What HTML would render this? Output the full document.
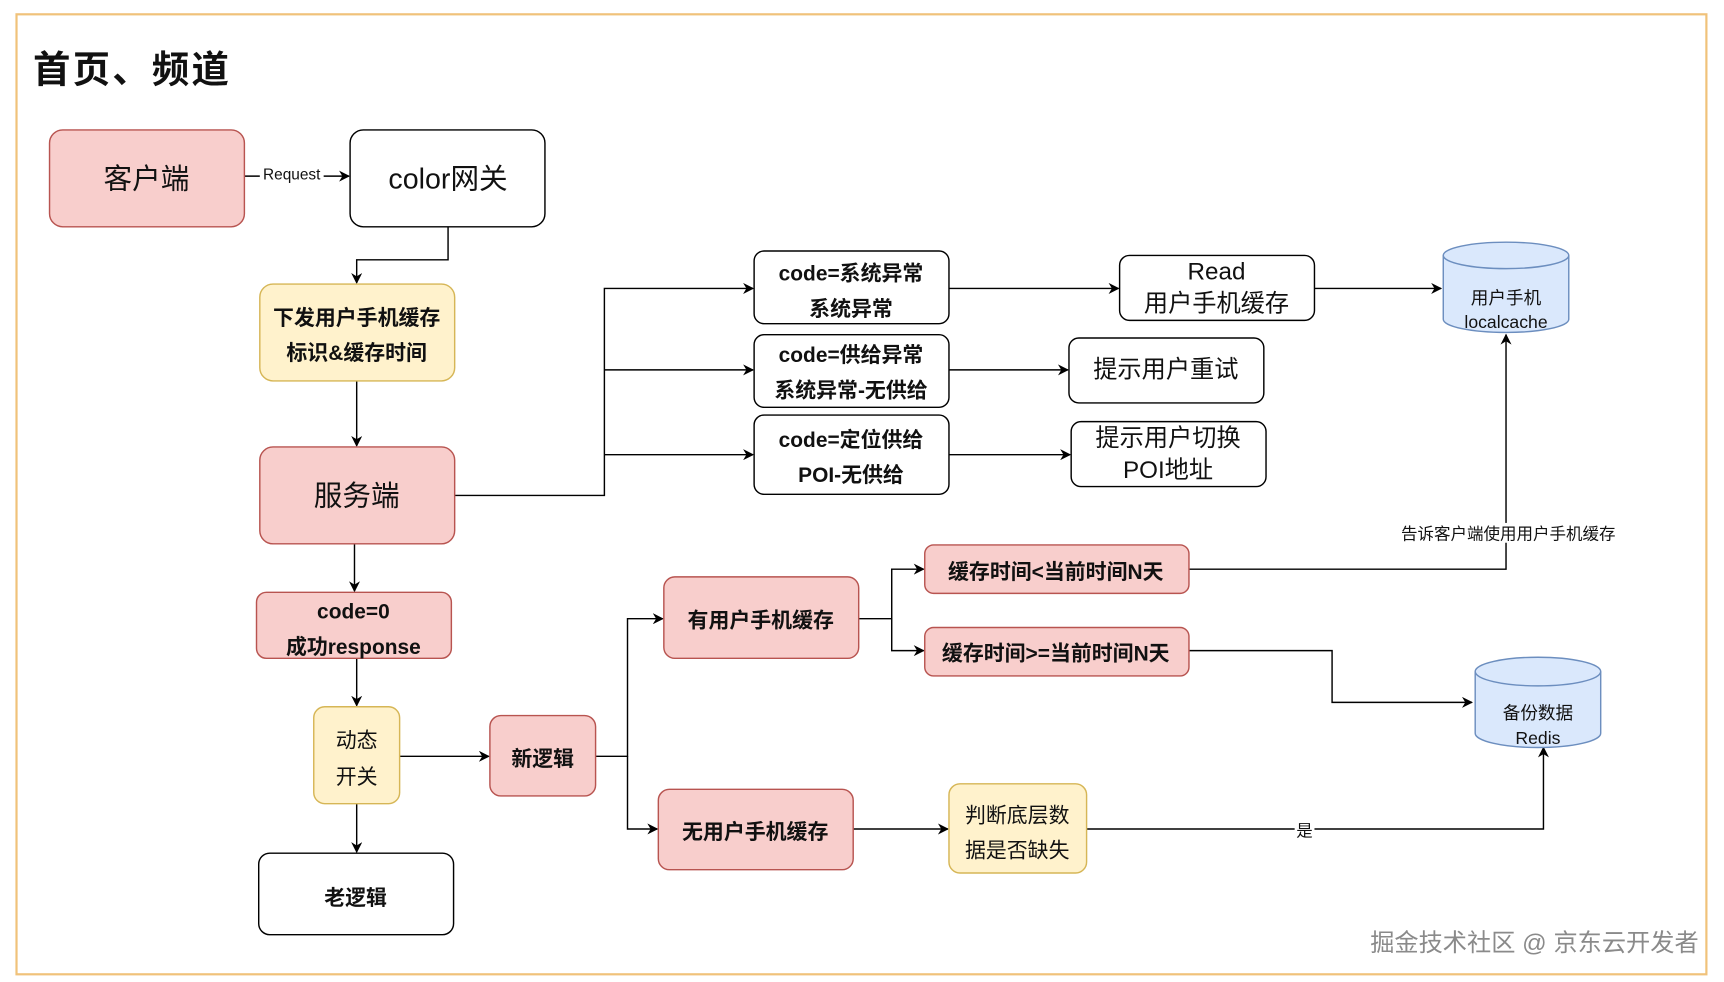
<!DOCTYPE html>
<html><head><meta charset="utf-8"><style>
html,body{margin:0;padding:0;background:#fff;}
svg{display:block;}
text{font-family:"Liberation Sans","Noto Sans CJK SC",sans-serif;fill:#111;}
.b{font-weight:bold;}
</style></head><body>
<svg width="1724" height="982" viewBox="0 0 1566 892" preserveAspectRatio="none" xmlns="http://www.w3.org/2000/svg">
<defs><marker id="a" markerWidth="10" markerHeight="10" refX="9" refY="5" orient="auto" markerUnits="userSpaceOnUse"><path d="M0,0 L10,5 L0,10 L3,5 z" fill="#000"/></marker></defs>
<rect x="15" y="13" width="1535" height="872" fill="#fff" stroke="#f0c27a" stroke-width="2"/>
<text x="30" y="75" font-size="34" class="b" letter-spacing="2">首页、频道</text>

<g stroke="#000" stroke-width="1.3" fill="none" marker-end="url(#a)">
<path d="M222,160 H317"/>
<path d="M407,206 V236 H324 V257"/>
<path d="M324,346 V405"/>
<path d="M413,450 H549 V262 H684"/>
<path d="M549,336 H684"/>
<path d="M549,413 H684"/>
<path d="M862,262 H1016"/>
<path d="M1194,262 H1309"/>
<path d="M862,336 H970"/>
<path d="M862,413 H972"/>
<path d="M322,494 V537"/>
<path d="M324,598 V641"/>
<path d="M324,730 V774"/>
<path d="M363,687 H444"/>
<path d="M541,687 H570 V562 H602"/>
<path d="M570,687 V753 H597"/>
<path d="M780,562 H810 V517 H839"/>
<path d="M810,562 V591 H839"/>
<path d="M1080,517 H1368 V304"/>
<path d="M1080,591 H1210 V638 H1337"/>
<path d="M775,753 H861"/>
<path d="M987,753 H1402 V679"/>
</g>
<rect x="236" y="150" width="58" height="14" fill="#fff"/>
<text x="265" y="163" font-size="14" text-anchor="middle">Request</text>
<rect x="1264" y="475" width="212" height="18" fill="#fff"/>
<text x="1370" y="490" font-size="15" text-anchor="middle">告诉客户端使用用户手机缓存</text>
<rect x="1176" y="745" width="18" height="18" fill="#fff"/>
<text x="1185" y="760" font-size="15" text-anchor="middle">是</text>

<g stroke-width="1.3">
<rect x="45" y="118" width="177" height="88" rx="12" fill="#f8cecc" stroke="#b85450"/>
<rect x="318" y="118" width="177" height="88" rx="12" fill="#fff" stroke="#000"/>
<rect x="236" y="258" width="177" height="88" rx="12" fill="#fff2cc" stroke="#d6b656"/>
<rect x="236" y="406" width="177" height="88" rx="12" fill="#f8cecc" stroke="#b85450"/>
<rect x="685" y="228" width="177" height="66" rx="9" fill="#fff" stroke="#000"/>
<rect x="685" y="304" width="177" height="66" rx="9" fill="#fff" stroke="#000"/>
<rect x="685" y="377" width="177" height="72" rx="9" fill="#fff" stroke="#000"/>
<rect x="1017" y="232" width="177" height="59" rx="9" fill="#fff" stroke="#000"/>
<rect x="971" y="307" width="177" height="59" rx="9" fill="#fff" stroke="#000"/>
<rect x="973" y="383" width="177" height="59" rx="9" fill="#fff" stroke="#000"/>
<rect x="233" y="538" width="177" height="60" rx="9" fill="#f8cecc" stroke="#b85450"/>
<rect x="285" y="642" width="78" height="88" rx="10" fill="#fff2cc" stroke="#d6b656"/>
<rect x="235" y="775" width="177" height="74" rx="10" fill="#fff" stroke="#000"/>
<rect x="445" y="650" width="96" height="73" rx="10" fill="#f8cecc" stroke="#b85450"/>
<rect x="603" y="524" width="177" height="74" rx="10" fill="#f8cecc" stroke="#b85450"/>
<rect x="598" y="717" width="177" height="73" rx="10" fill="#f8cecc" stroke="#b85450"/>
<rect x="840" y="495" width="240" height="44" rx="8" fill="#f8cecc" stroke="#b85450"/>
<rect x="840" y="570" width="240" height="44" rx="8" fill="#f8cecc" stroke="#b85450"/>
<rect x="862" y="712" width="125" height="81" rx="10" fill="#fff2cc" stroke="#d6b656"/>
<path d="M1311,232 V290 A57,12 0 0 0 1425,290 V232" fill="#dae8fc" stroke="#6c8ebf"/>
<ellipse cx="1368" cy="232" rx="57" ry="12" fill="#dae8fc" stroke="#6c8ebf"/>
<path d="M1340,610 V666 A57,13 0 0 0 1454,666 V610" fill="#dae8fc" stroke="#6c8ebf"/>
<ellipse cx="1397" cy="610" rx="57" ry="13" fill="#dae8fc" stroke="#6c8ebf"/>
</g>

<g text-anchor="middle">
<text x="133" y="171" font-size="26">客户端</text>
<text x="407" y="171" font-size="26">color网关</text>
<text x="324" y="295" font-size="19" class="b">下发用户手机缓存</text>
<text x="324" y="327" font-size="19" class="b">标识&amp;缓存时间</text>
<text x="324" y="459" font-size="26">服务端</text>
<text x="773" y="255" font-size="19" class="b">code=系统异常</text>
<text x="773" y="287" font-size="19" class="b">系统异常</text>
<text x="773" y="329" font-size="19" class="b">code=供给异常</text>
<text x="773" y="361" font-size="19" class="b">系统异常-无供给</text>
<text x="773" y="406" font-size="19" class="b">code=定位供给</text>
<text x="773" y="438" font-size="19" class="b">POI-无供给</text>
<text x="1105" y="254" font-size="22">Read</text>
<text x="1105" y="283" font-size="22">用户手机缓存</text>
<text x="1059" y="343" font-size="22">提示用户重试</text>
<text x="1061" y="405" font-size="22">提示用户切换</text>
<text x="1061" y="434" font-size="22">POI地址</text>
<text x="1368" y="276" font-size="16">用户手机</text>
<text x="1368" y="298" font-size="16">localcache</text>
<text x="321" y="562" font-size="19" class="b">code=0</text>
<text x="321" y="594" font-size="19" class="b">成功response</text>
<text x="324" y="679" font-size="19">动态</text>
<text x="324" y="712" font-size="19">开关</text>
<text x="323" y="822" font-size="19" class="b">老逻辑</text>
<text x="493" y="696" font-size="19" class="b">新逻辑</text>
<text x="691" y="570" font-size="19" class="b">有用户手机缓存</text>
<text x="686" y="762" font-size="19" class="b">无用户手机缓存</text>
<text x="959" y="526" font-size="19" class="b">缓存时间&lt;当前时间N天</text>
<text x="959" y="600" font-size="19" class="b">缓存时间&gt;=当前时间N天</text>
<text x="924" y="747" font-size="19">判断底层数</text>
<text x="924" y="779" font-size="19">据是否缺失</text>
<text x="1397" y="653" font-size="16">备份数据</text>
<text x="1397" y="676" font-size="16">Redis</text>
</g>
<text x="1543" y="864" font-size="22" text-anchor="end" style="fill:#8a8a8a;stroke:#fff;stroke-width:0.6;paint-order:stroke">掘金技术社区 @ 京东云开发者</text>
</svg>
</body></html>
